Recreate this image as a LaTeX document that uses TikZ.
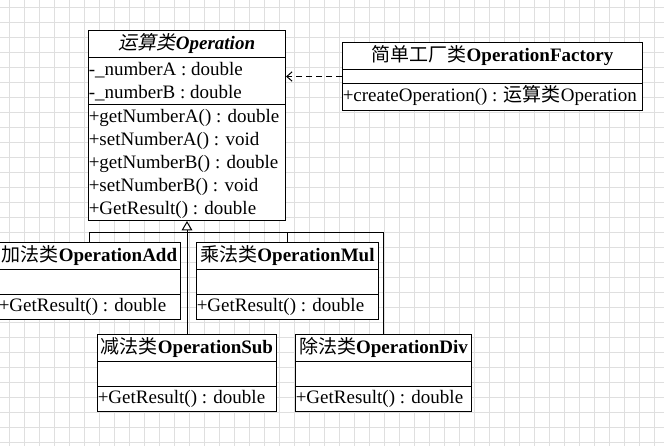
\documentclass[tikz,border=0pt]{standalone}
\usepackage{fontspec}
\setmainfont{Liberation Serif}
\newfontfamily\cjk{Noto Sans CJK SC}
\newfontfamily\cjkit[FakeSlant=0.2]{Noto Sans CJK SC}
\usetikzlibrary{arrows.meta,calc}
\tikzset{
  classbox/.style={draw, fill=white, line width=0.75pt, inner sep=0pt, anchor=north west},
  member/.style={inner sep=0pt, anchor=base west},
  classname/.style={inner sep=0pt, anchor=base},
  sepline/.style={line width=0.75pt},
  link/.style={line width=0.75pt},
  gridline/.style={gray!25, line width=0.75pt},
}

\begin{document}
\begin{tikzpicture}[x=0.75pt,y=-0.75pt,font=\fontsize{14.25}{17.25}\selectfont]
  \useasboundingbox (0,0) rectangle (664,446);
  % background grid
  \foreach \gx in {9,24,...,654} \draw[gridline] (\gx,0) -- (\gx,446);
  \foreach \gy in {7,22,...,442} \draw[gridline] (0,\gy) -- (664,\gy);

  % classes
  \node[classbox, minimum width=147.75pt, minimum height=142.5pt] (op) at (88,30) {};
  \node[classbox, minimum width=225pt, minimum height=51pt] (fac) at (342,42) {};
  \node[classbox, minimum width=136.5pt, minimum height=57.75pt] (add) at (-2,242) {};
  \node[classbox, minimum width=136.5pt, minimum height=57.75pt] (mul) at (196,242) {};
  \node[classbox, minimum width=134.25pt, minimum height=57.75pt] (sub) at (97,334) {};
  \node[classbox, minimum width=132pt, minimum height=57.75pt] (div) at (295,334) {};

  % section lines
  \draw[sepline] ($(op.north west)+(0,27)$) -- ($(op.north east)+(0,27)$);
  \draw[sepline] ($(op.north west)+(0,74.5)$) -- ($(op.north east)+(0,74.5)$);
  \draw[sepline] ($(fac.north west)+(0,27.5)$) -- ($(fac.north east)+(0,27.5)$);
  \draw[sepline] ($(fac.north west)+(0,41.5)$) -- ($(fac.north east)+(0,41.5)$);
  \foreach \c in {add,mul,sub,div} {
    \draw[sepline] ($(\c.north west)+(0,27)$) -- ($(\c.north east)+(0,27)$);
    \draw[sepline] ($(\c.north west)+(0,52)$) -- ($(\c.north east)+(0,52)$);
  }

  % texts
  \node[classname] (opname) at ($(op.north)+(0,19.5)$) {{\cjkit 运算类}\textbf{\textit{Operation}}};
  \node[member] (opa1) at ($(op.north west)+(0.5,45.5)$) {-\_numberA : double};
  \node[member] (opa2) at ($(op.north west)+(0.5,68.5)$) {-\_numberB : double};
  \node[member] (opm1) at ($(op.north west)+(0.5,92)$) {+getNumberA() : double};
  \node[member] (opm2) at ($(op.north west)+(0.5,115)$) {+setNumberA() : void};
  \node[member] (opm3) at ($(op.north west)+(0.5,138)$) {+getNumberB() : double};
  \node[member] (opm4) at ($(op.north west)+(0.5,161)$) {+setNumberB() : void};
  \node[member] (opm5) at ($(op.north west)+(0.5,184)$) {+GetResult() : double};

  \node[classname] (facname) at ($(fac.north)+(0,19.5)$) {{\cjk 简单工厂类}\textbf{OperationFactory}};
  \node[member] (facm1) at ($(fac.north west)+(0.5,59.5)$) {+createOperation() : {\cjk 运算类}Operation};

  \node[classname] (addname) at ($(add.north)+(0,19)$) {{\cjk 加法类}\textbf{OperationAdd}};
  \node[classname] (mulname) at ($(mul.north)+(0,19)$) {{\cjk 乘法类}\textbf{OperationMul}};
  \node[classname] (subname) at ($(sub.north)+(0,19.5)$) {{\cjk 减法类}\textbf{OperationSub}};
  \node[classname] (divname) at ($(div.north)+(0,19.5)$) {{\cjk 除法类}\textbf{OperationDiv}};
  \foreach \c in {add,mul,sub,div}
    \node[member] (\c m1) at ($(\c.north west)+(0.5,69.5)$) {+GetResult() : double};

  % generalization
  \coordinate (junc) at ($(op.south)+(0,11.5)$);
  \draw[link, -{Triangle[open, length=7pt, width=8pt]}] (junc) -- (op.south);
  \foreach \c in {add,mul,sub,div}
    \draw[link] (\c.north) |- (junc);

  % dependency
  \draw[link, dash pattern=on 4.5pt off 3pt, -{Straight Barb[length=4pt, width=7pt]}]
    (fac.west) -- (fac.west -| op.east);
\end{tikzpicture}
\end{document}
